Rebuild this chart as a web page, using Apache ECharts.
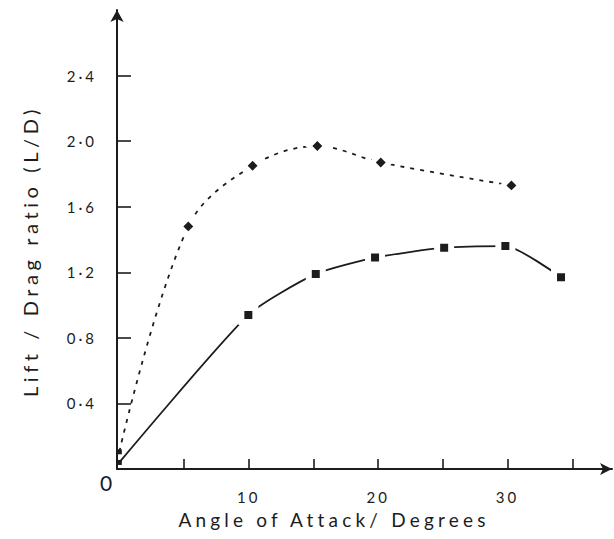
<!DOCTYPE html>
<html>
<head>
<meta charset="utf-8">
<script src="https://cdn.jsdelivr.net/npm/echarts@6/dist/echarts.min.js"></script>
<style>
html,body{margin:0;padding:0;background:#fff;}
#chart{width:614px;height:539px;}
#chart text[style*="15px"]{letter-spacing:3px;}
#chart text[style*="19px"]{letter-spacing:4.2px;}
#chart text[style*="20px"]{letter-spacing:4.6px;}
</style>
</head>
<body>
<div id="chart"></div>
<script>
// Angle of attack (degrees) and lift/drag ratio
const angleUpper = [0, 5.33, 10.3, 15.3, 20.2, 30.3];
const ldUpper    = [0.105, 1.48, 1.85, 1.97, 1.87, 1.73];
const angleLower = [0, 9.97, 15.18, 19.76, 25.1, 29.83, 34.13];
const ldLower    = [0.04, 0.94, 1.19, 1.29, 1.35, 1.36, 1.17];

const xTickValues  = [5, 10, 15, 20, 25, 30, 35];
const xLabelValues = [10, 20, 30];
const yTickValues  = [0.4, 0.8, 1.2, 1.6, 2.0, 2.4];
const originLabel  = '0';
const xTitle = 'Angle of Attack/ Degrees';
const yTitle = 'Lift / Drag ratio (L/D)';

const ink = '#1c1c1c';
const font = 'Lato, "Noto Sans", sans-serif';

function pts(xs, ys) {
  return xs.map((x, i) => {
    const d = { value: [x, ys[i]] };
    if (i === 0) { d.symbol = 'rect'; d.symbolSize = 5; d.symbolRotate = 0; d.itemStyle = { borderWidth: 0 }; }
    return d;
  });
}

const chart = echarts.init(document.getElementById('chart'), null, { renderer: 'svg' });
chart.setOption({
  animation: false,
  backgroundColor: '#fff',
  textStyle: { fontFamily: font, color: ink },
  grid: { left: 117, right: 2, top: 10, bottom: 70, containLabel: false },
  xAxis: {
    type: 'value', min: -0.18, max: 38.07,
    name: xTitle, nameLocation: 'middle', nameGap: 41,
    nameTextStyle: { fontSize: 19, color: ink, fontFamily: font, padding: [0, 61, 0, 0] },
    axisLine: { onZero: false, lineStyle: { color: ink, width: 2 }, symbol: ['none', 'arrow'], symbolSize: [9, 12] },
    axisTick: { show: true, inside: true, length: 10, customValues: xTickValues, lineStyle: { color: ink, width: 1.6 } },
    axisLabel: { customValues: xLabelValues, margin: 20, fontSize: 15, color: ink, fontFamily: font },
    splitLine: { show: false }
  },
  yAxis: {
    type: 'value', min: 0, max: 2.8,
    name: yTitle, nameLocation: 'middle', nameGap: 77, nameRotate: 90,
    nameTextStyle: { fontSize: 20, color: ink, fontFamily: font, padding: [0, 23, 0, 0] },
    axisLine: { onZero: false, lineStyle: { color: ink, width: 2 }, symbol: ['none', 'arrow'], symbolSize: [10, 12] },
    axisTick: { show: true, inside: true, length: 14, customValues: yTickValues, lineStyle: { color: ink, width: 1.6 } },
    axisLabel: {
      customValues: yTickValues, margin: 20, fontSize: 15, color: ink, fontFamily: font,
      formatter: v => v.toFixed(1).replace('.', '·')
    },
    splitLine: { show: false }
  },
  series: [
    {
      type: 'line',
      data: pts(angleUpper, ldUpper),
      smooth: 0.35,
      symbol: 'rect', symbolSize: 12, symbolRotate: 45,
      itemStyle: { color: ink, borderColor: '#fff', borderWidth: 5 },
      lineStyle: { color: ink, width: 1.8, type: [4, 6] },
      z: 3
    },
    {
      type: 'line',
      data: pts(angleLower, ldLower),
      smooth: 0.2,
      symbol: 'rect', symbolSize: 14,
      itemStyle: { color: ink, borderColor: '#fff', borderWidth: 6 },
      lineStyle: { color: ink, width: 1.8 },
      z: 3
    }
  ],
  graphic: [
    { type: 'text', left: 100, top: 472, style: { text: originLabel, fontSize: 21, fill: ink, fontFamily: font } }
  ]
});
</script>
</body>
</html>
